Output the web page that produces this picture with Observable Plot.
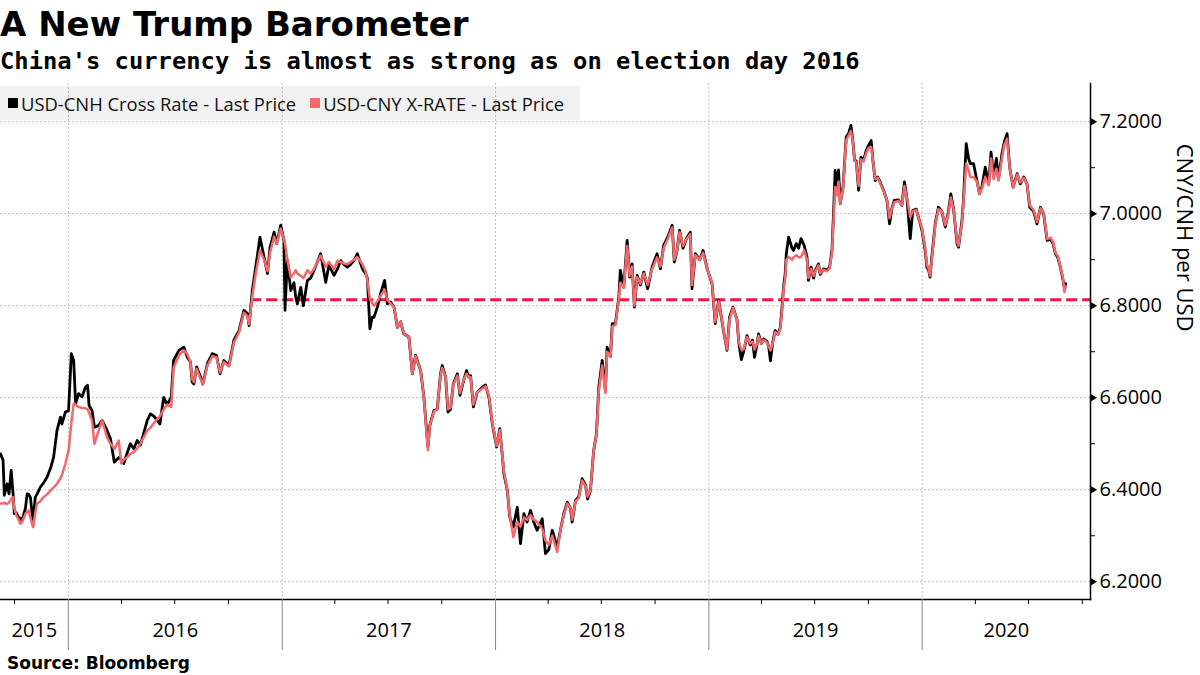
<!DOCTYPE html>
<html><head><meta charset="utf-8">
<script src="https://cdn.jsdelivr.net/npm/d3@7"></script>
<script src="https://cdn.jsdelivr.net/npm/@observablehq/plot@0.6"></script>
<style>
body{margin:0;background:#fff;}
#wrap{position:relative;width:1200px;height:675px;overflow:hidden;background:#fff;}
#chart{position:absolute;left:0;top:0;}
#title{position:absolute;left:0;top:7px;font:bold 34px/34px "DejaVu Sans";color:#000;white-space:nowrap;}
#subtitle{position:absolute;left:0;top:49px;font:bold 23.8px/24px "DejaVu Sans Mono";color:#000;white-space:nowrap;}
#legend{position:absolute;left:0;top:86px;width:580px;height:34px;background:rgba(0,0,0,0.055);display:flex;align-items:center;font:18.4px "Open Sans";color:#111;white-space:nowrap;}
#legend .sw{display:inline-block;width:10px;height:10px;margin:0 3px 0 8px;}
#legend .item{display:flex;align-items:center;margin-right:6px;}
#source{position:absolute;left:7px;top:655px;font:bold 17px/17px "DejaVu Sans";color:#000;white-space:nowrap;}
</style></head>
<body><div id="wrap">
<div id="chart"></div>
<div id="title">A New Trump Barometer</div>
<div id="subtitle">China's currency is almost as strong as on election day 2016</div>
<div id="legend"></div>
<div id="source">Source: Bloomberg</div>
</div>
<script>
// Dates as decimal years
const dates = [
2015.682,2015.694,2015.700,2015.713,2015.722,2015.732,2015.741,2015.747,2015.756,2015.767,
2015.775,2015.783,2015.799,2015.807,2015.814,2015.822,2015.830,2015.835,2015.845,2015.853,
2015.869,2015.884,2015.900,2015.916,2015.931,2015.947,2015.963,2015.970,2015.986,2016.001,
2016.014,2016.025,2016.034,2016.048,2016.064,2016.080,2016.090,2016.097,2016.111,2016.122,
2016.142,2016.158,2016.181,2016.197,2016.215,2016.236,2016.247,2016.259,2016.275,2016.290,
2016.306,2016.322,2016.337,2016.369,2016.384,2016.400,2016.428,2016.446,2016.462,2016.481,
2016.492,2016.517,2016.540,2016.556,2016.571,2016.579,2016.587,2016.600,2016.618,2016.629,
2016.650,2016.673,2016.693,2016.709,2016.727,2016.751,2016.774,2016.798,2016.821,2016.837,
2016.845,2016.860,2016.876,2016.896,2016.915,2016.931,2016.943,2016.962,2016.974,2016.993,
2017.008,2017.013,2017.024,2017.040,2017.055,2017.063,2017.071,2017.087,2017.099,2017.118,
2017.133,2017.149,2017.180,2017.204,2017.219,2017.243,2017.259,2017.274,2017.289,2017.305,
2017.321,2017.336,2017.352,2017.376,2017.391,2017.399,2017.411,2017.422,2017.430,2017.446,
2017.461,2017.480,2017.493,2017.508,2017.524,2017.540,2017.555,2017.570,2017.594,2017.610,
2017.625,2017.649,2017.664,2017.683,2017.692,2017.711,2017.727,2017.742,2017.750,2017.766,
2017.777,2017.789,2017.802,2017.821,2017.833,2017.852,2017.864,2017.875,2017.883,2017.896,
2017.914,2017.938,2017.953,2017.969,2017.985,2018.005,2018.020,2018.031,2018.039,2018.055,
2018.067,2018.083,2018.102,2018.117,2018.133,2018.148,2018.164,2018.179,2018.195,2018.219,
2018.234,2018.250,2018.266,2018.289,2018.304,2018.320,2018.336,2018.351,2018.359,2018.375,
2018.390,2018.406,2018.422,2018.432,2018.445,2018.460,2018.473,2018.484,2018.500,2018.515,
2018.523,2018.539,2018.547,2018.562,2018.578,2018.585,2018.601,2018.617,2018.629,2018.640,
2018.651,2018.664,2018.679,2018.695,2018.713,2018.734,2018.757,2018.773,2018.788,2018.807,
2018.828,2018.838,2018.851,2018.863,2018.879,2018.895,2018.913,2018.921,2018.937,2018.957,
2018.973,2018.992,2019.015,2019.030,2019.046,2019.066,2019.085,2019.097,2019.113,2019.132,
2019.140,2019.152,2019.163,2019.179,2019.194,2019.205,2019.214,2019.226,2019.233,2019.246,
2019.257,2019.273,2019.280,2019.289,2019.299,2019.311,2019.324,2019.335,2019.343,2019.350,
2019.358,2019.363,2019.374,2019.390,2019.397,2019.410,2019.421,2019.432,2019.447,2019.460,
2019.467,2019.479,2019.491,2019.499,2019.514,2019.522,2019.538,2019.554,2019.566,2019.577,
2019.585,2019.592,2019.600,2019.608,2019.616,2019.629,2019.644,2019.655,2019.666,2019.675,
2019.683,2019.691,2019.702,2019.713,2019.725,2019.738,2019.748,2019.761,2019.769,2019.780,
2019.791,2019.803,2019.819,2019.835,2019.847,2019.858,2019.869,2019.889,2019.905,2019.917,
2019.928,2019.944,2019.956,2019.972,2019.987,2019.999,2020.014,2020.022,2020.030,2020.037,
2020.045,2020.061,2020.076,2020.092,2020.108,2020.123,2020.134,2020.147,2020.163,2020.170,
2020.186,2020.193,2020.206,2020.217,2020.225,2020.240,2020.256,2020.268,2020.280,2020.295,
2020.311,2020.322,2020.334,2020.347,2020.357,2020.373,2020.384,2020.397,2020.409,2020.425,
2020.444,2020.459,2020.475,2020.490,2020.503,2020.521,2020.537,2020.553,2020.568,2020.584,
2020.600,2020.612,2020.623,2020.634,2020.646,2020.659,2020.665,2020.671
];
// USD-CNH Cross Rate - Last Price
const cnh = [
6.478,6.464,6.388,6.413,6.391,6.442,6.391,6.348,6.350,6.340,
6.338,6.333,6.360,6.391,6.390,6.384,6.350,6.333,6.384,6.390,
6.406,6.415,6.427,6.446,6.471,6.529,6.558,6.543,6.569,6.572,
6.696,6.681,6.587,6.609,6.602,6.623,6.627,6.583,6.572,6.536,
6.540,6.551,6.529,6.511,6.460,6.470,6.466,6.457,6.480,6.500,
6.489,6.507,6.497,6.551,6.565,6.560,6.543,6.601,6.585,6.601,
6.681,6.703,6.710,6.688,6.678,6.634,6.630,6.667,6.645,6.630,
6.674,6.696,6.692,6.652,6.681,6.670,6.725,6.746,6.790,6.783,
6.757,6.833,6.884,6.949,6.906,6.870,6.927,6.960,6.935,6.975,
6.942,6.790,6.898,6.833,6.850,6.820,6.804,6.840,6.800,6.855,
6.860,6.877,6.913,6.851,6.888,6.866,6.880,6.898,6.890,6.884,
6.890,6.898,6.913,6.880,6.870,6.860,6.750,6.775,6.775,6.797,
6.826,6.855,6.804,6.808,6.797,6.753,6.765,6.739,6.732,6.652,
6.692,6.659,6.601,6.493,6.540,6.572,6.575,6.652,6.670,6.645,
6.569,6.575,6.630,6.652,6.605,6.640,6.659,6.645,6.648,6.580,
6.612,6.623,6.628,6.601,6.543,6.493,6.533,6.478,6.435,6.399,
6.340,6.319,6.362,6.283,6.348,6.330,6.355,6.330,6.312,6.337,
6.261,6.270,6.312,6.275,6.312,6.348,6.373,6.360,6.330,6.377,
6.385,6.424,6.410,6.380,6.399,6.485,6.522,6.623,6.681,6.616,
6.710,6.690,6.761,6.761,6.819,6.877,6.840,6.942,6.862,6.891,
6.797,6.866,6.845,6.873,6.837,6.884,6.913,6.880,6.931,6.949,
6.975,6.895,6.920,6.964,6.925,6.946,6.960,6.837,6.913,6.900,
6.920,6.880,6.848,6.761,6.812,6.753,6.703,6.775,6.797,6.770,
6.721,6.683,6.700,6.735,6.715,6.725,6.688,6.717,6.739,6.718,
6.728,6.722,6.712,6.680,6.720,6.746,6.738,6.753,6.797,6.840,
6.870,6.913,6.949,6.925,6.920,6.935,6.925,6.946,6.931,6.906,
6.855,6.884,6.860,6.877,6.891,6.868,6.880,6.877,6.884,6.920,
7.007,7.094,7.060,7.095,7.022,7.058,7.167,7.174,7.192,7.159,
7.116,7.115,7.051,7.123,7.116,7.138,7.148,7.159,7.116,7.072,
7.080,7.069,7.051,7.029,6.978,7.011,7.029,7.030,7.018,7.069,
7.036,6.946,7.007,7.010,6.985,6.964,6.920,6.884,6.877,6.862,
6.906,6.978,7.014,7.005,6.971,7.005,7.043,7.010,6.935,6.927,
6.985,7.029,7.152,7.120,7.109,7.109,7.072,7.043,7.060,7.101,
7.065,7.134,7.080,7.120,7.075,7.130,7.156,7.174,7.101,7.058,
7.087,7.065,7.080,7.065,7.014,7.005,6.978,7.014,7.000,6.942,
6.945,6.935,6.913,6.905,6.884,6.855,6.838,6.848
];
// USD-CNY X-RATE - Last Price
const cny = [
6.370,6.370,6.372,6.369,6.372,6.380,6.384,6.360,6.345,6.335,
6.326,6.330,6.348,6.352,6.355,6.340,6.326,6.319,6.350,6.370,
6.375,6.384,6.390,6.398,6.405,6.413,6.425,6.432,6.457,6.485,
6.545,6.587,6.585,6.580,6.578,6.577,6.575,6.568,6.550,6.500,
6.529,6.551,6.514,6.500,6.489,6.507,6.457,6.465,6.471,6.478,
6.482,6.490,6.500,6.529,6.535,6.545,6.560,6.575,6.585,6.580,
6.665,6.692,6.703,6.695,6.678,6.640,6.634,6.663,6.641,6.630,
6.670,6.690,6.688,6.655,6.678,6.668,6.720,6.742,6.785,6.778,
6.760,6.820,6.870,6.920,6.900,6.875,6.915,6.950,6.935,6.968,
6.945,6.935,6.900,6.862,6.870,6.877,6.870,6.865,6.860,6.877,
6.870,6.880,6.909,6.885,6.895,6.880,6.898,6.895,6.892,6.890,
6.895,6.900,6.906,6.890,6.875,6.855,6.815,6.805,6.800,6.810,
6.822,6.835,6.812,6.805,6.797,6.753,6.765,6.739,6.732,6.652,
6.690,6.659,6.601,6.486,6.540,6.570,6.575,6.650,6.665,6.645,
6.575,6.578,6.628,6.648,6.610,6.640,6.652,6.645,6.645,6.585,
6.612,6.620,6.625,6.605,6.545,6.495,6.530,6.480,6.440,6.400,
6.345,6.297,6.330,6.320,6.340,6.335,6.345,6.335,6.330,6.315,
6.290,6.280,6.300,6.265,6.312,6.345,6.370,6.362,6.335,6.375,
6.382,6.420,6.408,6.385,6.399,6.485,6.520,6.615,6.670,6.610,
6.700,6.690,6.755,6.758,6.815,6.850,6.840,6.930,6.865,6.885,
6.800,6.862,6.848,6.870,6.845,6.880,6.905,6.885,6.925,6.945,
6.970,6.900,6.920,6.960,6.930,6.945,6.955,6.845,6.910,6.900,
6.915,6.880,6.850,6.765,6.810,6.755,6.705,6.770,6.795,6.770,
6.721,6.705,6.705,6.732,6.718,6.722,6.705,6.717,6.735,6.718,
6.726,6.720,6.712,6.703,6.718,6.743,6.738,6.750,6.790,6.835,
6.860,6.900,6.906,6.900,6.905,6.910,6.905,6.906,6.920,6.900,
6.860,6.880,6.865,6.875,6.888,6.870,6.878,6.875,6.882,6.915,
6.990,7.058,7.040,7.070,7.022,7.055,7.160,7.170,7.180,7.158,
7.116,7.112,7.060,7.118,7.113,7.132,7.142,7.145,7.116,7.075,
7.078,7.067,7.050,7.030,6.990,7.010,7.025,7.028,7.018,7.060,
7.036,6.993,7.005,7.008,6.985,6.968,6.925,6.890,6.880,6.865,
6.900,6.975,7.010,7.005,6.975,7.000,7.035,7.010,6.940,6.930,
6.980,7.025,7.109,7.095,7.080,7.080,7.070,7.043,7.055,7.080,
7.062,7.120,7.075,7.098,7.072,7.120,7.150,7.163,7.101,7.058,
7.085,7.068,7.078,7.065,7.018,7.008,6.982,7.012,7.002,6.945,
6.948,6.938,6.915,6.908,6.885,6.858,6.830,6.842
];
const seriesNames = ["USD-CNH Cross Rate - Last Price", "USD-CNY X-RATE - Last Price"];
const seriesColors = ["#000000", "#f4676b"];
const yTicks = [6.2, 6.4, 6.6, 6.8, 7.0, 7.2];
const yMinorTicks = [6.3, 6.5, 6.7, 6.9, 7.1];
const yDomain = [6.1615, 7.283];
const xDomainYears = [2015.682, 2020.787];
const electionDay = "2016-11-08";
const electionRate = 6.813;
const yLabel = "CNY/CNH per USD";

function toDate(t) {
  const y = Math.floor(t);
  const a = Date.UTC(y, 0, 1), b = Date.UTC(y + 1, 0, 1);
  return new Date(a + (t - y) * (b - a));
}
const data = dates.map((t, i) => ({date: toDate(t), cnh: cnh[i], cny: cny[i]}));
const x0 = toDate(xDomainYears[0]), x1 = toDate(xDomainYears[1]);
const eDay = new Date(electionDay + "T00:00:00Z");
const yearStarts = d3.utcYear.range(x0, x1);
const quarterTicks = d3.utcMonth.every(3).range(x0, x1).filter(d => d.getUTCMonth() !== 0);
const yearLabels = d3.range(x0.getUTCFullYear(), x1.getUTCFullYear() + 1).map(y => {
  const a = Math.max(+x0, Date.UTC(y, 0, 1)), b = Math.min(+x1, Date.UTC(y + 1, 0, 1));
  return {year: String(y), date: new Date((a + b) / 2)};
});

const chart = Plot.plot({
  width: 1200, height: 675,
  marginTop: 83, marginBottom: 76, marginLeft: 0, marginRight: 110,
  x: {type: "utc", domain: [x0, x1]},
  y: {domain: yDomain},
  style: {fontFamily: "Open Sans", background: "transparent", color: "#000"},
  marks: [
    Plot.ruleY(yTicks, {stroke: "#bdbdbd", strokeDasharray: "2,2", strokeWidth: 1}),
    Plot.ruleX(yearStarts, {stroke: "#bdbdbd", strokeDasharray: "2,2", strokeWidth: 1}),
    Plot.ruleY([electionRate], {x1: () => eDay, x2: () => x1, stroke: "#e8193c", strokeWidth: 3, strokeDasharray: "11,5"}),
    Plot.line(data, {x: "date", y: "cnh", stroke: seriesColors[0], strokeWidth: 2.8}),
    Plot.line(data, {x: "date", y: "cny", stroke: seriesColors[1], strokeWidth: 2.5}),
    Plot.frame({anchor: "bottom", stroke: "#000", strokeWidth: 1.5}),
    Plot.frame({anchor: "right", stroke: "#000", strokeWidth: 1.5}),
    Plot.axisX({ticks: yearStarts, tickSize: 51, tickFormat: () => "", stroke: "#888", label: null}),
    Plot.axisX({ticks: quarterTicks, tickSize: 5, tickFormat: () => "", stroke: "#000", label: null}),
    Plot.text(yearLabels, {x: "date", text: "year", frameAnchor: "bottom", dy: 37, fontSize: 20, fill: "#000"}),
    Plot.axisY({ticks: yTicks, anchor: "right", tickSize: 0, tickPadding: 9, tickFormat: d => d.toFixed(4), fontSize: 20, label: null}),
    Plot.axisY({ticks: yMinorTicks, anchor: "right", tickSize: 4, tickFormat: () => "", label: null}),
    Plot.dot(yTicks, {y: d => d, frameAnchor: "right", symbol: "triangle", rotate: 90, r: 3, fill: "#000", stroke: "none", dx: 2}),
    Plot.text([yLabel], {text: d => d, frameAnchor: "right", rotate: 90, dx: 94, dy: -10, fontSize: 22, fill: "#000"})
  ]
});
document.getElementById("chart").appendChild(chart);

const legend = document.getElementById("legend");
seriesNames.forEach((name, i) => {
  const item = document.createElement("div");
  item.className = "item";
  const sw = document.createElement("span");
  sw.className = "sw";
  sw.style.background = seriesColors[i];
  item.appendChild(sw);
  item.appendChild(document.createTextNode(name));
  legend.appendChild(item);
});
</script>
</body></html>
